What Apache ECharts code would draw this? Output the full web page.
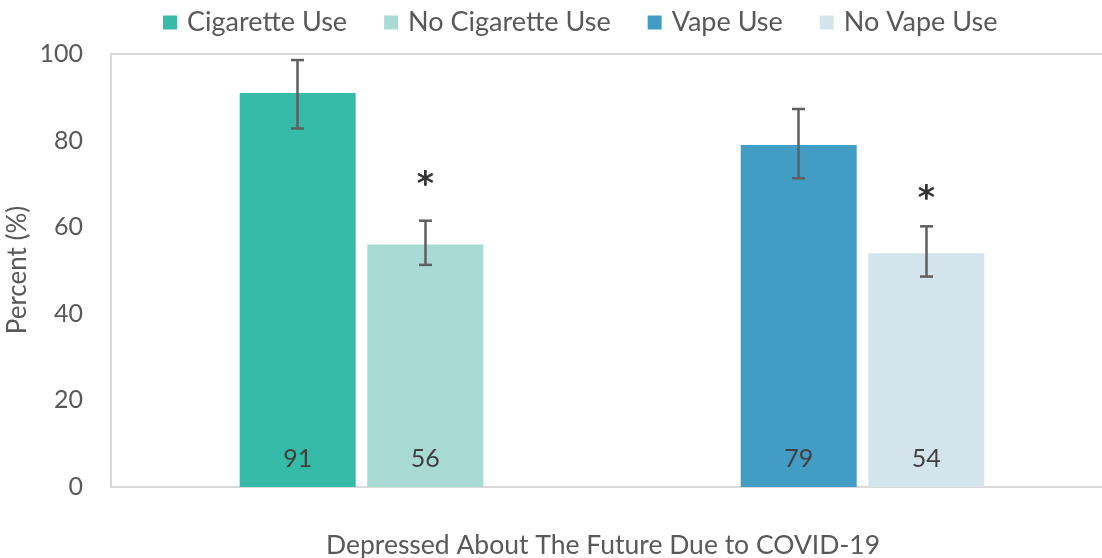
<!DOCTYPE html>
<html>
<head>
<meta charset="utf-8">
<script src="https://cdn.jsdelivr.net/npm/echarts@6/dist/echarts.min.js"></script>
<style>
  html, body { margin: 0; padding: 0; background: #fff; overflow: hidden; }
  #chart { width: 1102px; height: 558px; }
</style>
</head>
<body>
<div id="chart"></div>
<script>
// 两个分组：左边吸烟，右边电子烟
const categories = ['Cigarette', 'Vape']
const seriesNames = ['Cigarette Use', 'No Cigarette Use', 'Vape Use', 'No Vape Use']
const cigUse = [91, '-']
const noCigUse = [56, '-']
const vapeUse = ['-', 79]
const noVapeUse = ['-', 54]
// 误差范围 [分类, 低, 高]
const errCigUse = [[0, 82.8, 98.6]]
const errNoCigUse = [[0, 51.3, 61.5]]
const errVapeUse = [[1, 71.3, 87.3]]
const errNoVapeUse = [[1, 48.6, 60.2]]
// 显著性星号的位置
const starNoCig = [[0, 71]]
const starNoVape = [[1, 67.7]]
const yTicks = [0, 20, 40, 60, 80, 100]

const colors = ['#36BBA8', '#A9DBD4', '#439CC4', '#D3E4ED']
const FONT = 'Lato'
const BAR_W = 116
const OFFSET = 64 // 柱子中心相对分类中心的偏移
const frameLine = { show: true, lineStyle: { color: '#d9d9d9', width: 2 } }

const chart = echarts.init(document.getElementById('chart'))

function errorItem(offset) {
    return function (params, api) {
        const lo = api.coord([api.value(0), api.value(1)])
        const hi = api.coord([api.value(0), api.value(2)])
        const x = lo[0] + offset
        const cap = 6.5
        const style = { stroke: '#5f5f5f', lineWidth: 2.5 }
        return {
            type: 'group',
            children: [
                { type: 'line', shape: { x1: x, y1: lo[1], x2: x, y2: hi[1] }, style },
                { type: 'line', shape: { x1: x - cap, y1: lo[1], x2: x + cap, y2: lo[1] }, style },
                { type: 'line', shape: { x1: x - cap, y1: hi[1], x2: x + cap, y2: hi[1] }, style }
            ]
        }
    }
}

function barSeries(name, data, stack, color) {
    return {
        name: name,
        type: 'bar',
        stack: stack,
        data: data,
        barWidth: BAR_W,
        barGap: '10%',
        itemStyle: { color: color },
        label: {
            show: true,
            position: 'insideBottom',
            distance: 16,
            fontFamily: FONT,
            fontSize: 25,
            color: '#404040'
        }
    }
}

function errSeries(data, offset) {
    return {
        type: 'custom',
        renderItem: errorItem(offset),
        data: data,
        z: 10,
        silent: true,
        encode: { x: 0, y: [1, 2] }
    }
}

function starSeries(data, offset) {
    return {
        type: 'scatter',
        data: data,
        symbolSize: 0,
        silent: true,
        label: {
            show: true,
            formatter: '*',
            position: 'inside',
            offset: [offset, 7],
            fontFamily: 'DejaVu Sans',
            fontWeight: 'bold',
            fontSize: 33,
            color: '#000'
        }
    }
}

const option = {
    animation: false,
    color: colors,
    grid: {
        left: 111,
        top: 54,
        width: 1002,
        bottom: 71,
        containLabel: false,
        outerBoundsMode: 'none'
    },
    legend: {
        top: 4,
        left: 158,
        icon: 'rect',
        itemWidth: 14,
        itemHeight: 14,
        itemGap: 37,
        textStyle: { fontFamily: FONT, fontSize: 27, color: '#595959', padding: [0, 0, 0, 5] },
        data: seriesNames
    },
    xAxis: [{
        type: 'category',
        data: categories,
        axisLine: frameLine,
        axisTick: { show: false },
        axisLabel: { show: false }
    }, {
        // 顶部边框线
        type: 'category',
        position: 'top',
        data: categories,
        axisLine: frameLine,
        axisTick: { show: false },
        axisLabel: { show: false }
    }],
    yAxis: {
        type: 'value',
        min: yTicks[0],
        max: yTicks[yTicks.length - 1],
        interval: 20,
        axisLine: frameLine,
        axisTick: { show: false },
        splitLine: { show: false },
        axisLabel: { fontFamily: FONT, fontSize: 25, color: '#595959', margin: 28 }
    },
    graphic: [{
        type: 'text',
        x: 603,
        y: 545,
        style: {
            text: 'Depressed About The Future Due to COVID-19',
            fontFamily: FONT,
            fontSize: 26.5,
            fill: '#595959',
            align: 'center',
            verticalAlign: 'middle'
        }
    }, {
        type: 'text',
        x: 18,
        y: 270,
        rotation: Math.PI / 2,
        style: {
            text: 'Percent (%)',
            fontFamily: FONT,
            fontSize: 26,
            fill: '#595959',
            align: 'center',
            verticalAlign: 'middle'
        }
    }],
    series: [
        barSeries(seriesNames[0], cigUse, 'a', colors[0]),
        barSeries(seriesNames[1], noCigUse, 'b', colors[1]),
        barSeries(seriesNames[2], vapeUse, 'a', colors[2]),
        barSeries(seriesNames[3], noVapeUse, 'b', colors[3]),
        errSeries(errCigUse, -OFFSET),
        errSeries(errNoCigUse, OFFSET),
        errSeries(errVapeUse, -OFFSET),
        errSeries(errNoVapeUse, OFFSET),
        starSeries(starNoCig, OFFSET),
        starSeries(starNoVape, OFFSET)
    ]
}

chart.setOption(option)
</script>
</body>
</html>
